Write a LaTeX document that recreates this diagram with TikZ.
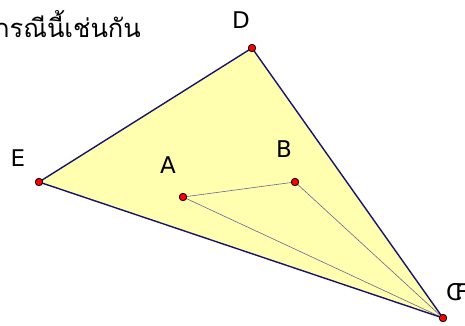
\documentclass[tikz,border=0pt]{standalone}
\usepackage{fontspec}
\setmainfont{DejaVu Sans}
\newfontfamily\thaifont[Script=Thai]{Loma}
\definecolor{fillyel}{RGB}{255,255,175}
\definecolor{edge}{RGB}{20,20,110}
\tikzset{
  pt/.style={circle,fill=red,draw=black,line width=0.8pt,inner sep=0pt,minimum size=7.5pt},
  lbl/.style={font=\fontsize{23}{26}\selectfont,text=black,inner sep=0pt},
  tri/.style={draw=edge,line width=1.4pt,line join=round},
  thin/.style={draw=gray!80!blue,line width=0.6pt}
}
\begin{document}
\begin{tikzpicture}[x=1pt,y=-1pt]
\useasboundingbox (0,0) rectangle (465,325);
\clip (0,0) rectangle (465,325);
\coordinate (D) at (252,48);
\coordinate (E) at (39,182);
\coordinate (C) at (443,318);
\coordinate (A) at (183,197);
\coordinate (B) at (295,182);
\fill[fillyel] (D) -- (E) -- (C) -- cycle;
\draw[thin] (A) -- (B) -- (C) -- (A);
\draw[tri] (D) -- (E) -- (C) -- cycle;
\node[lbl,anchor=base east] (txt) at (141,37) {\thaifont\fontsize{25.5}{30}\selectfont กรณีนี้เช่นกัน};
\node[lbl,anchor=base] (lD) at (241,28) {D};
\node[lbl,anchor=base] (lE) at (18,166) {E};
\node[lbl,anchor=base] (lA) at (168,173) {A};
\node[lbl,anchor=base] (lB) at (284,157) {B};
\node[lbl,anchor=base west] (lC) at (446,300) {C};
\node[lbl,anchor=base west] (lF) at (455,300) {F};
\node[pt] (pD) at (D) {};
\node[pt] (pE) at (E) {};
\node[pt] (pC) at (C) {};
\node[pt] (pA) at (A) {};
\node[pt] (pB) at (B) {};
\end{tikzpicture}
\end{document}
